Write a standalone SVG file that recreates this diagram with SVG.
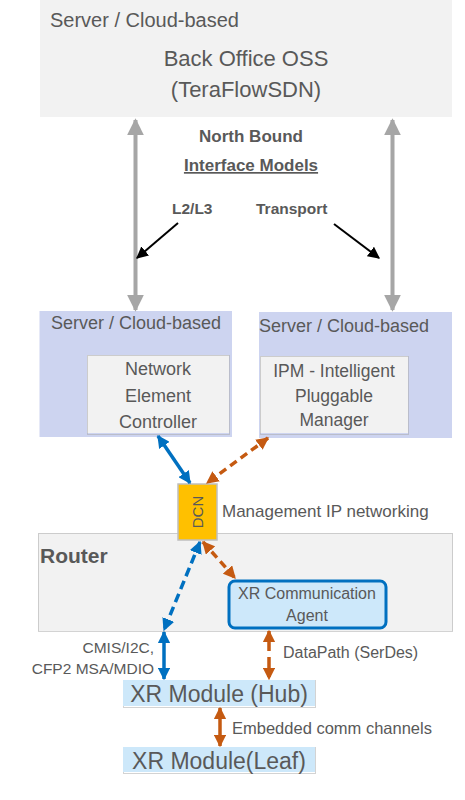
<svg xmlns="http://www.w3.org/2000/svg" width="465" height="800" viewBox="0 0 465 800">
<style>
text{font-family:"Liberation Sans",Arial,sans-serif;fill:#595959}
.b{font-weight:bold}
.c{text-anchor:middle}
.gray{fill:#f2f2f2}
.lav{fill:#cdd4f0}
.lb{fill:#cde8fa}
.shadow{fill:none;stroke:#a6a6a6;stroke-width:1;stroke-dasharray:1 1}
</style>
<defs>
<marker id="ag" viewBox="0 0 10 10" refX="9" refY="5" markerWidth="4.2" markerHeight="4.2" orient="auto-start-reverse" markerUnits="strokeWidth"><path d="M0,0L10,5L0,10z" fill="#a6a6a6"/></marker>
<marker id="ak" viewBox="0 0 10 10" refX="9" refY="5" markerWidth="6" markerHeight="6" orient="auto-start-reverse" markerUnits="strokeWidth"><path d="M0,0L10,5L0,10z" fill="#000"/></marker>
<marker id="abl" viewBox="0 0 10 10" refX="9" refY="5" markerWidth="3.6" markerHeight="3.6" orient="auto-start-reverse" markerUnits="strokeWidth"><path d="M0,0L10,5L0,10z" fill="#0070c0"/></marker>
<marker id="aor" viewBox="0 0 10 10" refX="9" refY="5" markerWidth="3.6" markerHeight="3.6" orient="auto-start-reverse" markerUnits="strokeWidth"><path d="M0,0L10,5L0,10z" fill="#c55a11"/></marker>
</defs>

<g id="oss">
<rect x="40" y="0" width="412" height="117" class="gray"/>
<text x="50" y="27" font-size="20">Server / Cloud-based</text>
<text x="246" y="66" font-size="22" class="c">Back Office OSS</text>
<text x="246" y="97" font-size="22" class="c">(TeraFlowSDN)</text>
</g>

<g id="nbi-labels">
<text x="251" y="142" font-size="17" class="b c">North Bound</text>
<text x="251" y="171" font-size="17" class="b c" text-decoration="underline">Interface Models</text>
<text x="172" y="214" font-size="15.5" class="b">L2/L3</text>
<text x="256" y="214" font-size="15.5" class="b">Transport</text>
</g>

<g id="nec-server">
<rect x="39.5" y="311" width="192.5" height="126" class="lav"/>
<text x="51" y="329" font-size="18">Server / Cloud-based</text>
</g>
<g id="nec">
<rect x="87" y="355" width="142" height="78" class="gray"/>
<rect x="87.5" y="355.5" width="142" height="79" class="shadow"/>
<text x="158" y="375" font-size="18" class="c">Network</text>
<text x="158" y="402" font-size="18" class="c">Element</text>
<text x="158" y="428" font-size="18" class="c">Controller</text>
</g>

<g id="ipm-server">
<rect x="259" y="312" width="193" height="126" class="lav"/>
<text x="259" y="332" font-size="18">Server / Cloud-based</text>
</g>
<g id="ipm">
<rect x="260" y="356" width="148" height="77" class="gray"/>
<rect x="260.5" y="356.5" width="148" height="78" class="shadow"/>
<text x="334" y="377" font-size="17.5" class="c">IPM - Intelligent</text>
<text x="334" y="402" font-size="17.5" class="c">Pluggable</text>
<text x="334" y="426" font-size="17.5" class="c">Manager</text>
</g>

<g id="router">
<rect x="38" y="533" width="415" height="98" class="gray"/>
<rect x="38.5" y="533.5" width="414" height="98" class="shadow"/>
<text x="40" y="563" font-size="21" class="b">Router</text>
</g>

<g id="dcn">
<rect x="178" y="484" width="39" height="56" fill="#ffc000" stroke="#bfbfbf" stroke-width="1.5"/>
<text transform="translate(203,512) rotate(-90)" font-size="15" class="c">DCN</text>
<text x="222" y="517" font-size="17">Management IP networking</text>
</g>

<g id="xr-agent">
<rect x="229" y="581" width="157" height="47" rx="6" class="lb" stroke="#0070c0" stroke-width="3"/>
<text x="307" y="599" font-size="16" class="c">XR Communication</text>
<text x="307" y="621" font-size="16" class="c">Agent</text>
</g>

<g id="hub">
<rect x="123.5" y="680.5" width="192" height="27" class="shadow"/>
<rect x="123" y="680" width="192" height="26" class="lb"/>
<text x="219" y="702" font-size="23" class="c">XR Module (Hub)</text>
</g>

<g id="leaf">
<rect x="123.5" y="747.5" width="192" height="26" class="shadow"/>
<rect x="123" y="747" width="192" height="25" class="lb"/>
<text x="219" y="769" font-size="23" class="c">XR Module(Leaf)</text>
</g>

<g id="connector-labels">
<text x="154" y="653" font-size="15.5" text-anchor="end">CMIS/I2C,</text>
<text x="154" y="674" font-size="15.5" text-anchor="end">CFP2 MSA/MDIO</text>
<text x="283" y="658" font-size="16">DataPath (SerDes)</text>
<text x="232" y="734" font-size="16.5">Embedded comm channels</text>
</g>

<g id="connectors" fill="none">
<line x1="135.5" y1="120" x2="135.5" y2="310" stroke="#a6a6a6" stroke-width="4" marker-start="url(#ag)" marker-end="url(#ag)"/>
<line x1="392.5" y1="120" x2="392.5" y2="310" stroke="#a6a6a6" stroke-width="4" marker-start="url(#ag)" marker-end="url(#ag)"/>
<line x1="178" y1="223" x2="137" y2="258" stroke="#000" stroke-width="2" marker-end="url(#ak)"/>
<line x1="334" y1="224" x2="379" y2="258" stroke="#000" stroke-width="2" marker-end="url(#ak)"/>
<line x1="158" y1="436" x2="190" y2="483" stroke="#0070c0" stroke-width="3.5" marker-start="url(#abl)" marker-end="url(#abl)"/>
<line x1="268" y1="438" x2="207" y2="483" stroke="#c55a11" stroke-width="3.5" stroke-dasharray="8 5" marker-start="url(#aor)" marker-end="url(#aor)"/>
<line x1="200" y1="542" x2="164" y2="630" stroke="#0070c0" stroke-width="3.5" stroke-dasharray="9 5" marker-start="url(#abl)" marker-end="url(#abl)"/>
<line x1="203" y1="542" x2="235" y2="578" stroke="#c55a11" stroke-width="3.5" stroke-dasharray="8 5" marker-start="url(#aor)" marker-end="url(#aor)"/>
<line x1="164" y1="632" x2="164" y2="679" stroke="#0070c0" stroke-width="3.5" marker-start="url(#abl)" marker-end="url(#abl)"/>
<line x1="269" y1="631" x2="269" y2="679" stroke="#c55a11" stroke-width="3.5" stroke-dasharray="20 6" marker-start="url(#aor)" marker-end="url(#aor)"/>
<line x1="220" y1="708" x2="220" y2="746" stroke="#c55a11" stroke-width="3.5" marker-start="url(#aor)" marker-end="url(#aor)"/>
</g>
</svg>
